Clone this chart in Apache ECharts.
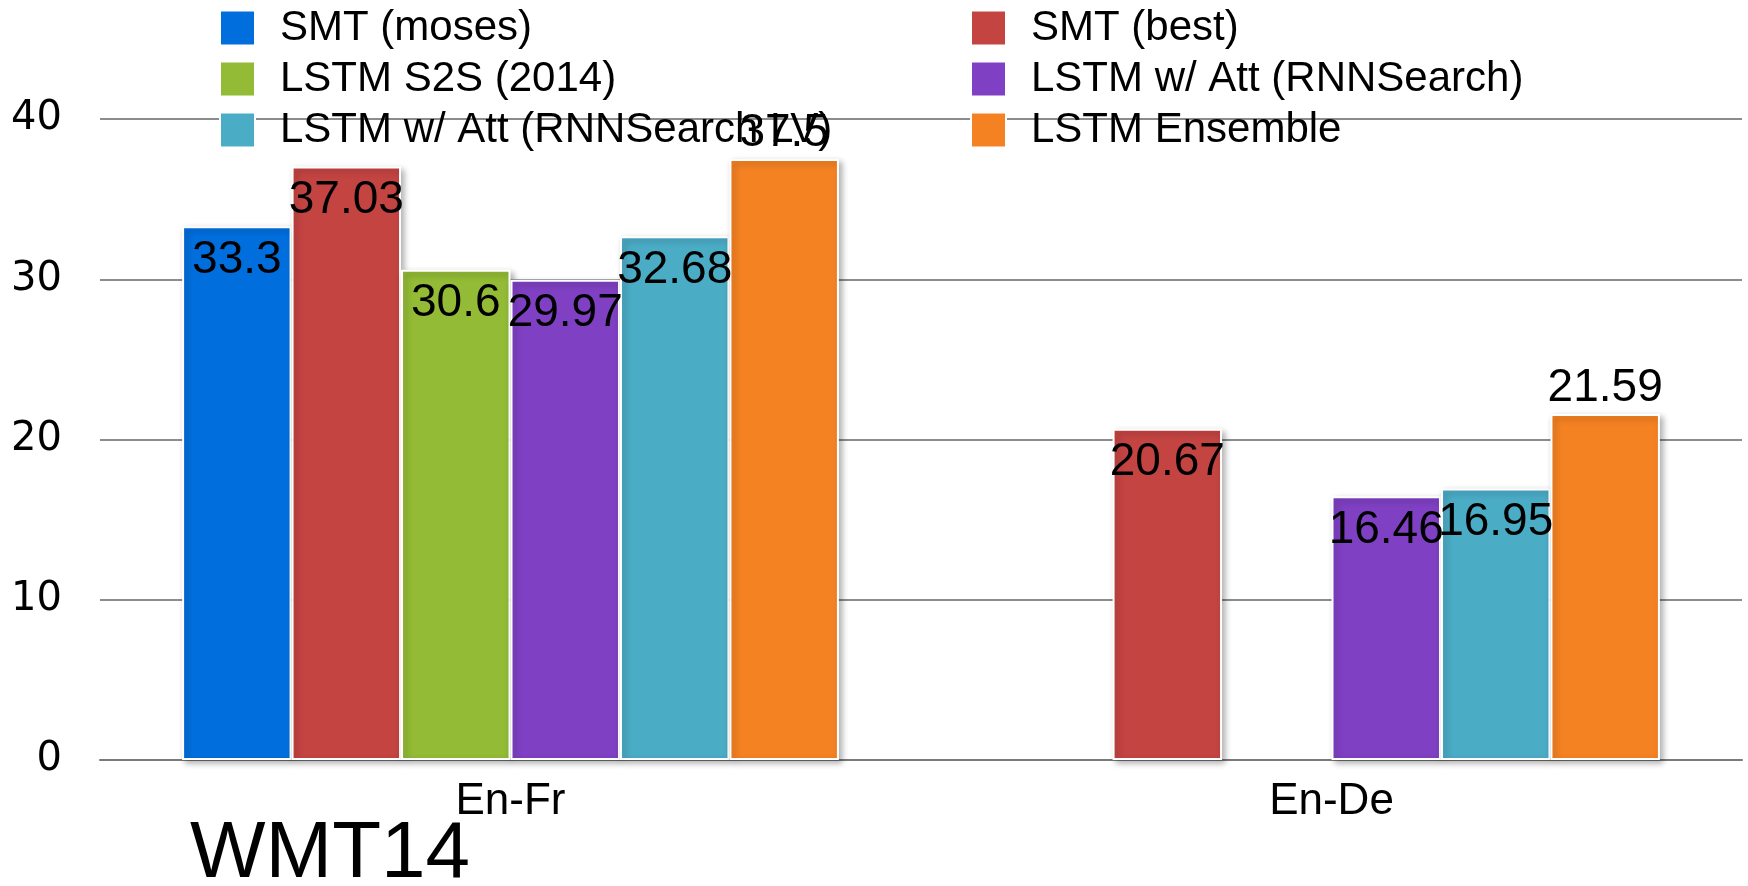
<!DOCTYPE html>
<html>
<head>
<meta charset="utf-8">
<script src="https://cdn.jsdelivr.net/npm/echarts@6/dist/echarts.min.js"></script>
<style>
  html, body { margin: 0; padding: 0; background: #ffffff; }
  #chart { width: 1748px; height: 886px; }
</style>
</head>
<body>
<div id="chart"></div>
<script>
// WMT14 BLEU scores by system
const categories = ['En-Fr', 'En-De'];
const seriesNames = [
  'SMT (moses)', 'SMT (best)', 'LSTM S2S (2014)',
  'LSTM w/ Att (RNNSearch)', 'LSTM w/ Att (RNNSearch LV)', 'LSTM Ensemble'
];
const smtMoses    = [33.3, null];
const smtBest     = [37.03, 20.67];
const lstmS2S     = [30.6, null];
const lstmAtt     = [29.97, 16.46];
const lstmAttLV   = [32.68, 16.95];
const lstmEnsemble = [37.5, 21.59];
const yTicks = [0, 10, 20, 30, 40];

const values = [smtMoses, smtBest, lstmS2S, lstmAtt, lstmAttLV, lstmEnsemble];
const colors = ['#006fdd', '#c44442', '#93bb36', '#7f40c3', '#4bacc6', '#f58222'];

const labelFont = "'Liberation Sans', Arial, sans-serif";

const series = seriesNames.map((name, i) => ({
  name: name,
  type: 'bar',
  data: values[i],
  barGap: '0%',
  barCategoryGap: '20%',
  itemStyle: {
    color: colors[i],
    borderColor: '#ffffff',
    borderWidth: 2,
    shadowBlur: 6,
    shadowOffsetX: 3,
    shadowOffsetY: 3,
    shadowColor: 'rgba(0,0,0,0.3)'
  },
  label: {
    show: true,
    // the ensemble values sit above their bars, the rest inside the top
    position: i === 5 ? 'top' : 'insideTop',
    distance: i === 5 ? 3 : 11,
    color: '#000000',
    fontFamily: labelFont,
    fontSize: 46,
    formatter: p => String(p.value)
  }
}));

const legendText = {
  color: '#000000',
  fontFamily: labelFont,
  fontSize: 42,
  lineHeight: 35,
  padding: [0, 0, 0, 20]
};

const legendBase = {
  orient: 'vertical', top: 2,
  itemWidth: 35, itemHeight: 35, itemGap: 9, icon: 'rect',
  textStyle: legendText, selectedMode: false
};

const chart = echarts.init(document.getElementById('chart'), null, { renderer: 'canvas' });
chart.setOption({
  backgroundColor: '#ffffff',
  animation: false,
  color: colors,
  grid: { left: 100, right: 6, top: 119, bottom: 126, containLabel: false },
  legend: [
    Object.assign({}, legendBase, {
      left: 214,
      data: [seriesNames[0], seriesNames[2], seriesNames[4]]
    }),
    Object.assign({}, legendBase, {
      left: 965,
      data: [seriesNames[1], seriesNames[3], seriesNames[5]]
    })
  ],
  xAxis: {
    type: 'category',
    data: categories,
    axisTick: { show: false },
    axisLine: { show: true, lineStyle: { color: '#7a7a7a', width: 2 } },
    axisLabel: {
      color: '#000000', fontFamily: labelFont, fontSize: 44, margin: 20
    }
  },
  yAxis: {
    type: 'value',
    min: yTicks[0],
    max: yTicks[yTicks.length - 1],
    interval: 10,
    axisLine: { show: false },
    axisTick: { show: false },
    splitLine: { lineStyle: { color: '#8c8c8c', width: 2 } },
    axisLabel: {
      color: '#000000', fontFamily: "'DejaVu Sans', sans-serif", fontSize: 40, margin: 38
    }
  },
  graphic: [{
    type: 'text',
    left: 190,
    top: 815,
    style: {
      text: 'WMT14',
      fill: '#000000',
      font: "80px 'Liberation Sans', Arial, sans-serif"
    }
  }],
  series: series
});
</script>
</body>
</html>
